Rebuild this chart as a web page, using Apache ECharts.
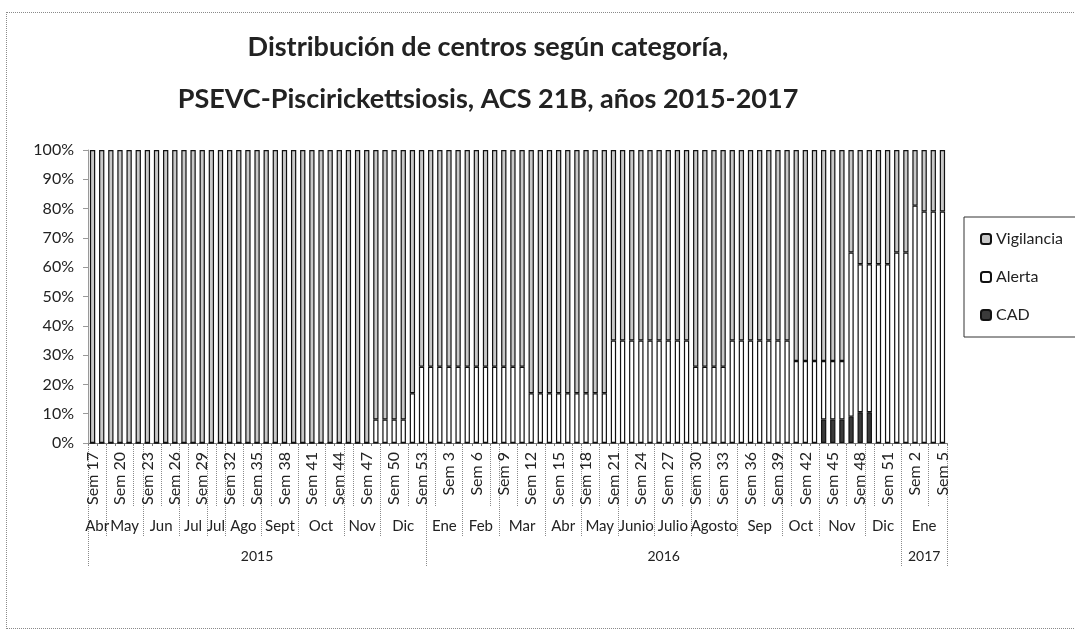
<!DOCTYPE html>
<html>
<head>
<meta charset="utf-8">
<title>Distribución de centros según categoría</title>
<script src="https://cdn.jsdelivr.net/npm/echarts@6/dist/echarts.min.js"></script>
<style>
  html, body { margin: 0; padding: 0; background: #fff; overflow: hidden; }
  #chart { width: 1075px; height: 635px; }
  #frame { position: absolute; left: 6px; top: 12px; width: 1090px; height: 615px;
           border: 1px dotted #8a8a8a; pointer-events: none; }
</style>
</head>
<body>
<div id="chart"></div>
<div id="frame"></div>
<script>
// semanas epidemiológicas: [año, primera, última]
var weekRanges = [[2015, 17, 53], [2016, 1, 52], [2017, 1, 5]];

// agrupaciones del eje (meses y años) con su número de semanas
var monthNames = ['Abr', 'May', 'Jun', 'Jul', 'Jul', 'Ago', 'Sept', 'Oct', 'Nov', 'Dic',
                  'Ene', 'Feb', 'Mar', 'Abr', 'May', 'Junio', 'Julio', 'Agosto', 'Sep', 'Oct', 'Nov', 'Dic',
                  'Ene'];
var monthWeeks = [2, 4, 4, 3, 2, 4, 4, 5, 4, 5,
                  4, 4, 5, 4, 4, 4, 4, 5, 5, 4, 5, 4,
                  5];
var yearNames = ['2015', '2016', '2017'];
var yearWeeks = [37, 52, 5];

var yTicks = [0, 10, 20, 30, 40, 50, 60, 70, 80, 90, 100];

// % de centros por categoría (2015: sem 17-53 | 2016: sem 1-52 | 2017: sem 1-5)
var cad = [
  0, 0, 0, 0, 0, 0, 0, 0, 0, 0, 0, 0, 0, 0, 0, 0, 0, 0, 0, 0, 0, 0, 0, 0, 0, 0, 0, 0, 0, 0, 0, 0, 0, 0, 0, 0, 0,
  0, 0, 0, 0, 0, 0, 0, 0, 0, 0, 0, 0, 0, 0, 0, 0, 0, 0, 0, 0, 0, 0, 0, 0, 0, 0, 0, 0, 0, 0, 0, 0, 0, 0, 0, 0,
  0, 0, 0, 0, 0, 0, 0, 8, 8, 8, 9, 10.5, 10.5, 0, 0, 0,
  0, 0, 0, 0, 0
];
var alerta = [
  0, 0, 0, 0, 0, 0, 0, 0, 0, 0, 0, 0, 0, 0, 0, 0, 0, 0, 0, 0, 0, 0, 0, 0, 0, 0, 0, 0, 0, 0, 0, 8, 8, 8, 8, 17, 26,
  26, 26, 26, 26, 26, 26, 26, 26, 26, 26, 26, 17, 17, 17, 17, 17, 17, 17, 17, 17, 35, 35, 35, 35, 35, 35, 35, 35, 35, 26, 26, 26, 26,
  35, 35, 35, 35, 35, 35, 35, 28, 28, 28, 20, 20, 20, 56, 50.5, 50.5, 61, 61, 65,
  65, 81, 79, 79, 79
];
var vigilancia = [
  100, 100, 100, 100, 100, 100, 100, 100, 100, 100, 100, 100, 100, 100, 100, 100, 100, 100, 100, 100, 100, 100, 100, 100, 100, 100, 100, 100, 100, 100, 100, 92, 92, 92, 92, 83, 74,
  74, 74, 74, 74, 74, 74, 74, 74, 74, 74, 74, 83, 83, 83, 83, 83, 83, 83, 83, 83, 65, 65, 65, 65, 65, 65, 65, 65, 65, 74, 74, 74, 74,
  65, 65, 65, 65, 65, 65, 65, 72, 72, 72, 72, 72, 72, 35, 39, 39, 39, 39, 35,
  35, 19, 21, 21, 21
];

var weekLabels = [];
weekRanges.forEach(function (r) {
  for (var w = r[1]; w <= r[2]; w++) weekLabels.push('Sem ' + w);
});

// eje auxiliar a media semana: etiqueta en el centro del grupo, marca en los bordes
function groupAxis(names, counts) {
  var total = counts.reduce(function (a, b) { return a + b; }, 0);
  var data = [];
  for (var i = 0; i <= total * 2; i++) data.push('');
  var bounds = { 0: true };
  var s = 0;
  names.forEach(function (n, i) {
    data[2 * s + counts[i]] = n;
    s += counts[i];
    bounds[2 * s] = true;
  });
  return { data: data, bounds: bounds };
}
var months = groupAxis(monthNames, monthWeeks);
var years = groupAxis(yearNames, yearWeeks);

var FONT = 'Lato, "Open Sans", sans-serif';
var sepLine = { color: '#8a8a8a', type: 'dotted', width: 1 };

var myChart = echarts.init(document.getElementById('chart'));
var option = {
  backgroundColor: '#fff',
  animation: false,
  title: {
    text: 'Distribución de centros según categoría,\nPSEVC-Piscirickettsiosis, ACS 21B, años 2015-2017',
    left: 483,
    top: 16,
    textAlign: 'center',
    textStyle: { fontFamily: FONT, fontSize: 27, fontWeight: 'bold', color: '#222', lineHeight: 52 }
  },
  legend: {
    data: ['Vigilancia', 'Alerta', 'CAD'],
    orient: 'vertical',
    left: 964,
    top: 217,
    padding: [14, 60, 14, 16],
    itemGap: 22,
    itemWidth: 10,
    itemHeight: 10,
    borderColor: '#333',
    borderWidth: 1,
    textStyle: { fontFamily: FONT, fontSize: 16, color: '#222' }
  },
  grid: { left: 88, right: 128, top: 150, bottom: 192, containLabel: false },
  xAxis: [{
    type: 'category',
    position: 'bottom',
    data: weekLabels,
    axisLine: { lineStyle: { color: '#777' } },
    axisTick: { show: true, interval: 0, length: 3, lineStyle: { color: '#777' } },
    axisLabel: { interval: 2, rotate: 90, margin: 9, fontFamily: FONT, fontSize: 16, color: '#222' }
  }, {
    type: 'category',
    position: 'bottom',
    data: weekLabels,
    axisLine: { show: false },
    axisTick: { show: true, interval: function (i) { return i % 3 === 2; }, length: 64, lineStyle: sepLine },
    axisLabel: { show: false }
  }, {
    type: 'category',
    position: 'bottom',
    data: months.data,
    boundaryGap: false,
    axisLine: { show: false },
    axisTick: { show: true, interval: function (i) { return !!months.bounds[i]; }, length: 94, lineStyle: sepLine },
    axisLabel: { interval: 0, margin: 76, fontFamily: FONT, fontSize: 15, color: '#222' }
  }, {
    type: 'category',
    position: 'bottom',
    data: years.data,
    boundaryGap: false,
    axisLine: { show: false },
    axisTick: { show: true, interval: function (i) { return !!years.bounds[i]; }, length: 124, lineStyle: sepLine },
    axisLabel: { interval: 0, margin: 106, fontFamily: FONT, fontSize: 14, color: '#222' }
  }],
  yAxis: {
    type: 'value',
    min: yTicks[0],
    max: yTicks[yTicks.length - 1],
    interval: 10,
    axisLine: { show: true, lineStyle: { color: '#999' } },
    axisTick: { show: true, length: 5, lineStyle: { color: '#999' } },
    splitLine: { show: false },
    axisLabel: { formatter: '{value}%', margin: 14, fontFamily: FONT, fontSize: 16, color: '#222' }
  },
  series: [{
    name: 'CAD', type: 'bar', stack: 'total', xAxisIndex: 0, barWidth: '58%', data: cad,
    itemStyle: { color: '#3a3a3a', borderColor: '#111', borderWidth: 1.2 }
  }, {
    name: 'Alerta', type: 'bar', stack: 'total', xAxisIndex: 0, barWidth: '58%', data: alerta,
    itemStyle: { color: '#ffffff', borderColor: '#111', borderWidth: 1.2 }
  }, {
    name: 'Vigilancia', type: 'bar', stack: 'total', xAxisIndex: 0, barWidth: '58%', data: vigilancia,
    itemStyle: { color: '#c8c8c8', borderColor: '#111', borderWidth: 1.2 }
  }]
};
myChart.setOption(option);
</script>
</body>
</html>
